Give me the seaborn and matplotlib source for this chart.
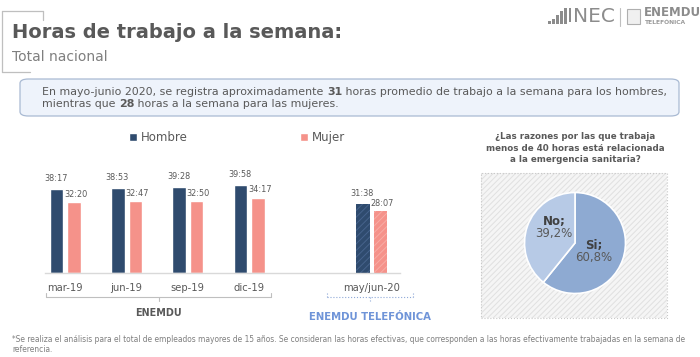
import matplotlib
matplotlib.use("Agg")
import matplotlib.pyplot as plt
from matplotlib.patches import FancyBboxPatch, Rectangle
from matplotlib.lines import Line2D
import pandas as pd
import seaborn as sns

# Data
periodos = ["mar-19", "jun-19", "sep-19", "dic-19", " ", "may/jun-20"]
periodos_datos = ["mar-19", "jun-19", "sep-19", "dic-19", "may/jun-20"]
hombre_txt = ["38:17", "38:53", "39:28", "39:58", "31:38"]
mujer_txt = ["32:20", "32:47", "32:50", "34:17", "28:07"]
sexos = ["Hombre", "Mujer"]
colores = ["#2F4B6E", "#F5928A"]
hatch_colores = ["#46638C", "#F8ADA6"]
pie_labels = ["Si", "No"]
pie_valores = [60.8, 39.2]
pie_colores = ["#8EAAD2", "#B7CAE6"]

def a_horas(txt):
    """Convert 'hh:mm' to decimal hours."""
    h, m = txt.split(":")
    return int(h) + int(m) / 60

df = pd.DataFrame({
    "periodo": periodos_datos * 2,
    "sexo": ["Hombre"] * 5 + ["Mujer"] * 5,
    "horas": [a_horas(t) for t in hombre_txt] + [a_horas(t) for t in mujer_txt],
})

sns.set_theme(style="white")
plt.rcParams["font.family"] = ["DejaVu Sans"]
plt.rcParams["hatch.linewidth"] = 0.7

W, H = 700, 357
fig = plt.figure(figsize=(7, 3.57), dpi=100)
fig.patch.set_facecolor("white")

def fx(px):
    return px / W

def fy(py):
    return 1 - py / H

# Header
fig.text(fx(12), fy(33), "Horas de trabajo a la semana:", fontsize=14, fontweight="bold",
         color="#595959", va="center", ha="left")
fig.text(fx(12), fy(57), "Total nacional", fontsize=10, color="#7F7F7F", va="center", ha="left")
for xs, ys in [([2, 43], [11, 11]), ([43, 43], [11, 20]), ([2, 2], [11, 72]), ([2, 30], [72, 72])]:
    fig.add_artist(Line2D([fx(x) for x in xs], [fy(y) for y in ys], color="#BFBFBF", lw=0.9))

# Logo (approximation)
for i, h in enumerate([3, 5, 9, 13, 16]):
    fig.add_artist(Rectangle((fx(548 + i * 4), fy(24)), fx(2.5), h / H, facecolor="#8C8C8C", lw=0))
fig.text(fx(567), fy(16), "INEC", fontsize=14.5, color="#8C8C8C", va="center", ha="left")
fig.add_artist(Line2D([fx(620), fx(620)], [fy(8), fy(26)], color="#BFBFBF", lw=0.8))
fig.add_artist(Rectangle((fx(627), fy(24)), fx(13), 15 / H, facecolor="#F0F0F0",
                         edgecolor="#AFAFAF", lw=0.8))
fig.text(fx(644), fy(13), "ENEMDU", fontsize=8.5, fontweight="bold", color="#8C8C8C",
         va="center", ha="left")
fig.text(fx(645), fy(23), "TELEFÓNICA", fontsize=4.3, fontweight="bold", color="#9A9A9A",
         va="center", ha="left")

# Highlight box
box = FancyBboxPatch((fx(20), fy(116)), fx(659), 37 / H,
                     boxstyle="round,pad=0,rounding_size=0.012",
                     transform=fig.transFigure, facecolor="#EEF3FB", edgecolor="#A9BAD3", lw=0.9)
fig.add_artist(box)

def linea(x, y, partes, size):
    """Write text pieces one after another on the same baseline, some in bold."""
    prev = fig.text(fx(x), fy(y), partes[0][0], fontsize=size, color="#595959",
                    fontweight=partes[0][1], va="baseline")
    for txt, peso in partes[1:]:
        prev = fig.add_artist(plt.Annotation(txt, xy=(1, fy(y)), xycoords=(prev, "figure fraction"),
                                             fontsize=size, color="#595959", fontweight=peso,
                                             va="baseline", ha="left"))

linea(42, 95, [("En mayo-junio 2020, se registra aproximadamente ", "normal"), ("31", "bold"),
               (" horas promedio de trabajo a la semana para los hombres,", "normal")], 7.9)
linea(42, 107, [("mientras que ", "normal"), ("28", "bold"),
                (" horas a la semana para las mujeres.", "normal")], 7.9)

# Bar chart
ax = fig.add_axes([fx(45), fy(273), fx(355), 110 / H])
sns.barplot(data=df, x="periodo", y="horas", hue="sexo", order=periodos, hue_order=sexos,
            palette=colores, width=0.57, gap=0.23, saturation=1, ax=ax, legend=True)
ax.set_xlim(-0.33, 5.46)
ax.set_ylim(0, 50.2)
ax.set_xlabel("")
ax.set_ylabel("")
ax.set_yticks([])
for s in ["top", "right", "left"]:
    ax.spines[s].set_visible(False)
ax.spines["bottom"].set_color("#D9D9D9")
ax.spines["bottom"].set_linewidth(1.0)
ax.tick_params(axis="x", length=0, labelsize=7.2, labelcolor="#595959", pad=7)
ax.patch.set_alpha(0)

# value labels, and hatching on the phone-survey bars
for cont, etiquetas, hc, dy, dx in zip(ax.containers, [hombre_txt, mujer_txt], hatch_colores,
                                       [4.8, 3.6], [-0.01, 0.03]):
    barras = [b for b in cont if b.get_height() == b.get_height() and b.get_height() > 0]
    for b, lab in zip(barras, etiquetas):
        ax.text(b.get_x() + b.get_width() / 2 + dx, b.get_height() + dy, lab, ha="center",
                va="center", fontsize=5.9, color="#595959")
    barras[-1].set_hatch("/////")
    barras[-1].set_edgecolor(hc)
    barras[-1].set_linewidth(0)

sns.move_legend(ax, "center", bbox_to_anchor=(0.54, (273 - 138) / 110), ncol=2,
                frameon=False, title=None, fontsize=8.5, handlelength=0.7, handleheight=0.7,
                handletextpad=0.3, columnspacing=9.5, labelcolor="#595959")

# Brackets
def corchete(x0, x1, y, color, ls):
    xm = (x0 + x1) / 2
    for xs, ys in [([x0, x1], [y, y]), ([x0, x0], [y - 4, y]), ([x1, x1], [y - 4, y]),
                   ([xm, xm], [y, y + 4])]:
        fig.add_artist(Line2D([fx(x) for x in xs], [fy(v) for v in ys], color=color, lw=0.8,
                              ls=ls))

corchete(46, 271, 297, "#BFBFBF", "-")
corchete(327, 413, 297, "#8FA9D8", ":")
fig.text(fx(158), fy(313), "ENEMDU", fontsize=6.9, fontweight="bold", color="#595959",
         ha="center", va="center")
fig.text(fx(370), fy(317), "ENEMDU TELEFÓNICA", fontsize=7.3, fontweight="bold", color="#6F94D8",
         ha="center", va="center")

# Pie panel
fig.text(fx(575), fy(148), "¿Las razones por las que trabaja\nmenos de 40 horas está relacionada\n"
         "a la emergencia sanitaria?", fontsize=6.3, fontweight="bold", color="#595959",
         ha="center", va="center", linespacing=1.3)
fig.add_artist(Rectangle((fx(481), fy(318)), fx(186), 145 / H, facecolor="#F5F5F5",
                         edgecolor="#E0E0E0", hatch="//////", lw=0, zorder=-2))
fig.add_artist(Rectangle((fx(481), fy(318)), fx(186), 145 / H, facecolor="none",
                         edgecolor="#C8C8C8", lw=0.8, ls=":", zorder=-1))
pax = fig.add_axes([fx(524), fy(294), fx(102), 102 / H])
pax.set_zorder(2)
pax.pie(pie_valores, colors=pie_colores, startangle=90, counterclock=False,
        wedgeprops=dict(edgecolor="white", linewidth=1.2))
pax.set_xlim(-1.01, 1.01)
pax.set_ylim(-1.01, 1.01)
pax.set_aspect("equal")
for x, y, lab, val in [(554, 221, "No;", "39,2%"), (594, 245, "Si;", "60,8%")]:
    pax.text(fx(x), fy(y), lab, transform=fig.transFigure, fontsize=8.5, fontweight="bold",
             color="#404040", ha="center", va="center")
    pax.text(fx(x), fy(y + 12), val, transform=fig.transFigure, fontsize=8.5, color="#595959",
             ha="center", va="center")

# Footnote
fig.text(fx(12), fy(339), "*Se realiza el análisis para el total de empleados mayores de 15 años. "
         "Se consideran las horas efectivas, que corresponden a las horas efectivamente trabajadas "
         "en la semana de", fontsize=5.45, color="#7F7F7F", va="center")
fig.text(fx(12), fy(349), "referencia.", fontsize=5.45, color="#7F7F7F", va="center")

fig.savefig("out.png", dpi=100)
